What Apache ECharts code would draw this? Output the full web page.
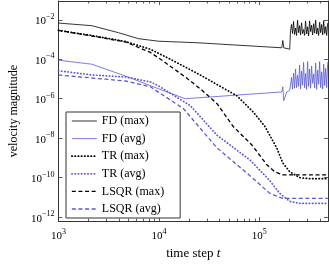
<!DOCTYPE html>
<html><head><meta charset="utf-8">
<script src="https://cdn.jsdelivr.net/npm/echarts@6/dist/echarts.min.js"></script>
<style>html,body{margin:0;padding:0;background:#fff}#c{width:329px;height:265px}</style>
</head><body><div id="c"></div>
<script>
// ---------- data (time step t, velocity magnitude) ----------
const seriesNames = ['FD (max)', 'FD (avg)', 'TR (max)', 'TR (avg)', 'LSQR (max)', 'LSQR (avg)'];

const fdMax = [[1000,6.8e-3],[2150,5.0e-3],[3970,2.2e-3],[6270,1.1e-3],[9890,8.2e-4],[24610,6.8e-4],
  [167100,3.8e-4],[171000,8.9e-4],[174900,3.8e-4],[200500,3.2e-4]];
const fdAvg = [[1000,8.9e-5],[2150,5.6e-5],[4660,1.4e-5],[9890,3.2e-6],[18290,1.0e-6],
  [167100,2.2e-6],[171000,4.0e-6],[174900,7.9e-7],[187200,2.2e-6],[200500,2.6e-6]];
const trMax = [[1000,2.9e-3],[2150,1.6e-3],[4660,7.9e-4],[8240,3.2e-4],[13010,1.0e-4],[25770,1.6e-5],
  [59840,1.4e-6],[86310,2.2e-7],[113300,4.0e-8],[148900,3.2e-9],[171000,5.6e-10],[200500,2.0e-10],
  [251800,1.0e-10],[316200,8.9e-11],[480000,8.9e-11]];
const trAvg = [[1000,2.6e-5],[2150,1.6e-5],[4660,1.26e-5],[8240,7.1e-6],[9890,4.5e-6],[20510,4.5e-7],
  [37940,1.4e-8],[80540,7.9e-10],[126900,7.1e-11],[159600,1.6e-11],[200500,6.3e-12],[251800,5.0e-12],
  [480000,5.0e-12]];
const lsqrMax = [[1000,2.9e-3],[2150,1.5e-3],[4660,7.5e-4],[8240,2.2e-4],[11090,7.9e-5],[18290,1.26e-5],
  [25770,3.2e-6],[37940,5.6e-7],[54690,4.0e-8],[84350,4.5e-9],[118600,4.5e-10],[142300,2.0e-10],
  [171000,1.4e-10],[480000,1.4e-10]];
const lsqrAvg = [[1000,1.6e-5],[2150,1.12e-5],[4660,7.9e-6],[8240,4.0e-6],[17490,3.2e-7],[37940,3.2e-9],
  [80540,1.26e-10],[126900,1.6e-11],[171000,8.9e-12],[480000,8.9e-12]];

// noisy tail of the FD runs
const noiseSteps = [204200,208900,213800,218800,223900,229100,234400,239900,245500,251200,257000,263000,
  269200,275400,281800,288400,295100,302000,309000,316200,323600,331100,338800,346700,354800,363100,
  371500,380200,389000,398100,407400,416900,426600,436500,446700,457100,467700,478600];
const fdMaxNoise = [2.8e-3,5.8e-3,2.0e-3,8.2e-3,1.8e-3,3.8e-3,1.6e-3,9.5e-3,2.2e-3,5.0e-3,1.7e-3,7.0e-3,
  2.0e-3,3.2e-3,1.6e-3,8.6e-3,1.9e-3,4.4e-3,1.5e-3,8.8e-3,2.5e-3,5.3e-3,1.7e-3,6.3e-3,2.1e-3,9.6e-3,
  1.9e-3,3.8e-3,1.6e-3,7.5e-3,2.2e-3,5.8e-3,1.7e-3,9.0e-3,2.0e-3,4.5e-3,1.6e-3,6.8e-3];
const fdAvgNoise = [2.6e-6,1.2e-5,3.0e-6,2.0e-5,3.4e-6,3.2e-5,3.6e-6,1.5e-5,4.2e-6,5.0e-5,3.1e-6,2.5e-5,
  4.8e-6,7.0e-5,3.6e-6,1.9e-5,3.0e-6,7.6e-5,4.2e-6,3.2e-5,3.4e-6,4.5e-5,6.0e-6,1.8e-5,3.6e-6,6.4e-5,
  3.0e-6,2.8e-5,5.4e-6,7.6e-5,3.6e-6,2.3e-5,3.1e-6,5.7e-5,4.6e-6,3.5e-5,3.6e-6,7.0e-5];

const xMajorTicks = [1e3, 1e4, 1e5];
const xMinorMultipliers = [2,3,4,5,6,7,8,9];
const yMajorTicks = [1e-12, 1e-10, 1e-8, 1e-6, 1e-4, 1e-2];

// ---------- build ----------
const L = Math.log10;
const toLog = arr => arr.map(p => [L(p[0]), L(p[1])]);
const withNoise = (base, noise) => base.concat(noiseSteps.map((t, i) => [t, noise[i]]));

const X_MIN = 3, X_MAX = 5.683, Y_MIN = -12.2, Y_MAX = -1.05;
const xMajor = xMajorTicks.map(L);
const xMinor = [];
xMajorTicks.forEach(m => xMinorMultipliers.forEach(k => { const v = L(k * m); if (v < X_MAX) xMinor.push(v); }));
const yMajor = yMajorTicks.map(v => Math.round(L(v)));

const FONT = 'Liberation Serif';
const AX = '#333';
const BLUE = '#5a5ad8';

function powLabel(v) {
  const e = Math.round(v);
  const s = e < 0 ? '\u2212' + (-e) : String(e);
  return '{b|10}{s|' + s + '}';
}
const richLab = {
  b: { fontFamily: FONT, fontSize: 11, lineHeight: 14, verticalAlign: 'bottom', color: '#000' },
  s: { fontFamily: FONT, fontSize: 8, lineHeight: 8, verticalAlign: 'top', color: '#000' }
};

function xAx(pos, values, len, labels) {
  return {
    type: 'value', min: X_MIN, max: X_MAX, position: pos, gridIndex: 0,
    axisLine: { show: true, onZero: false, lineStyle: { color: AX, width: 1 } },
    axisTick: { show: true, inside: true, length: len, customValues: values, lineStyle: { color: AX, width: 0.8 } },
    axisLabel: labels ? { show: true, customValues: values, formatter: powLabel, rich: richLab, margin: 7 } : { show: false },
    splitLine: { show: false }
  };
}
function yAx(pos, labels) {
  return {
    type: 'value', min: Y_MIN, max: Y_MAX, position: pos, gridIndex: 0,
    axisLine: { show: true, onZero: false, lineStyle: { color: AX, width: 1 } },
    axisTick: { show: true, inside: true, length: 4, customValues: yMajor, lineStyle: { color: AX, width: 0.8 } },
    axisLabel: labels ? { show: true, customValues: yMajor, formatter: powLabel, rich: richLab, margin: 4 } : { show: false },
    splitLine: { show: false }
  };
}

const xAxes = [xAx('bottom', xMajor, 4, true), xAx('bottom', xMinor, 2.5, false), xAx('top', xMajor, 4, false), xAx('top', xMinor, 2.5, false)];
xAxes[0].name = '{a|time step }{i|t}';
xAxes[0].nameLocation = 'middle';
xAxes[0].nameGap = 24;
xAxes[0].nameTextStyle = { rich: {
  a: { fontFamily: FONT, fontSize: 13, color: '#000' },
  i: { fontFamily: FONT, fontSize: 13, fontStyle: 'italic', color: '#000' } } };
const yAxes = [yAx('left', true), yAx('right', false)];
yAxes[0].name = 'velocity magnitude';
yAxes[0].nameLocation = 'middle';
yAxes[0].nameGap = 38;
yAxes[0].nameTextStyle = { fontFamily: FONT, fontSize: 12, color: '#000' };

const dotted = { type: [0.4, 2.8], cap: 'round', width: 1.7 };
const dashed = { type: [4, 2.6], width: 1.3 };

function line(name, data, color, ls) {
  return { name, type: 'line', data: toLog(data), xAxisIndex: 0, yAxisIndex: 0,
    symbol: 'none', showSymbol: false, clip: true, smooth: false,
    lineStyle: Object.assign({ color }, ls), itemStyle: { color } };
}

const option = {
  animation: false,
  backgroundColor: '#fff',
  grid: { left: 57, right: 1, top: 1, bottom: 41, containLabel: false },
  xAxis: xAxes,
  yAxis: yAxes,
  legend: {
    orient: 'vertical', left: 66, top: 112,
    data: seriesNames,
    itemWidth: 25, itemHeight: 12, itemGap: 5.6,
    padding: [3, 16, 3, 5],
    borderColor: AX, borderWidth: 1, backgroundColor: '#fff',
    itemStyle: { opacity: 0 },
    lineStyle: { width: 'inherit' },
    textStyle: { fontFamily: FONT, fontSize: 12, color: '#000' },
    selectedMode: false
  },
  series: [
    line(seriesNames[0], withNoise(fdMax, fdMaxNoise), '#000', { width: 0.8, type: 'solid' }),
    line(seriesNames[1], withNoise(fdAvg, fdAvgNoise), BLUE, { width: 0.8, type: 'solid' }),
    line(seriesNames[2], trMax, '#000', dotted),
    line(seriesNames[3], trAvg, BLUE, dotted),
    line(seriesNames[4], lsqrMax, '#000', dashed),
    line(seriesNames[5], lsqrAvg, BLUE, dashed)
  ]
};
echarts.init(document.getElementById('c'), null, { renderer: 'canvas' }).setOption(option);
</script></body></html>
